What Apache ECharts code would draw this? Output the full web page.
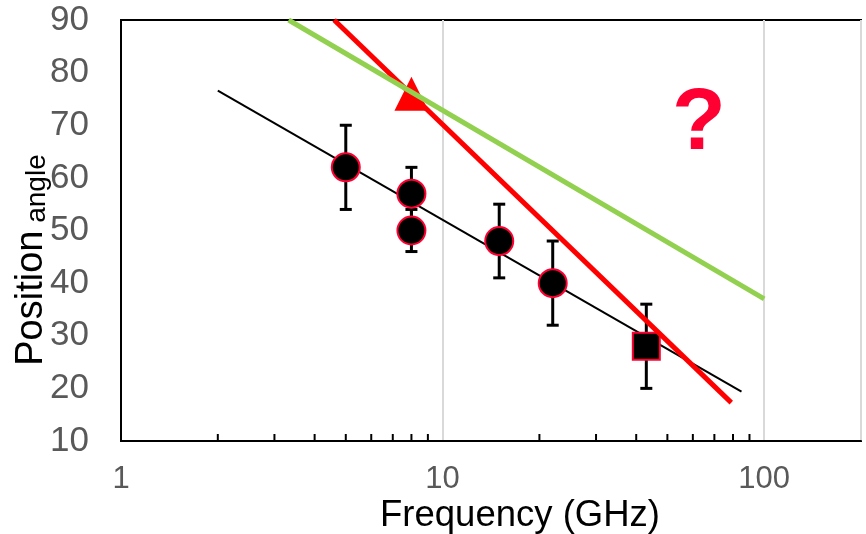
<!DOCTYPE html>
<html>
<head>
<meta charset="utf-8">
<script src="https://cdn.jsdelivr.net/npm/echarts@6/dist/echarts.min.js"></script>
<style>html,body{margin:0;padding:0;background:#fff}#c{width:866px;height:534px}</style>
</head>
<body>
<div id="c"></div>
<script>
// ---- data ----
const circleX = [5, 8, 8, 15, 22];
const circleY = [62, 57, 50, 48, 40];
const circleErr = [8, 5, 4, 7, 8];
const squareX = [43];
const squareY = [28];
const squareErr = [8];
const triangleX = [8];
const triangleY = [76];
const fitBlackX = [2, 85];
const fitBlackY = [76.6, 19.4];
const greenX = [3.32, 100];
const greenY = [90, 37];
const redX = [4.6, 79];
const redY = [90, 17.3];
const minorTickX = [2, 3, 4, 5, 6, 7, 8, 9, 20, 30, 40, 50, 60, 70, 80, 90];
const xTickLabels = [1, 10, 100];
const yMin = 10, yMax = 90, yStep = 10;
const xMin = 1, xMax = 200;

const FONT = '"Liberation Sans", Arial, sans-serif';
const zip = (xs, ys) => xs.map((x, i) => [x, ys[i]]);

const errData = circleX.map((x, i) => [x, circleY[i] - circleErr[i], circleY[i] + circleErr[i]])
  .concat(squareX.map((x, i) => [x, squareY[i] - squareErr[i], squareY[i] + squareErr[i]]));

function renderErr(params, api) {
  const x = api.value(0);
  const top = api.coord([x, api.value(2)]);
  const bot = api.coord([x, api.value(1)]);
  const w = 6;
  const st = { stroke: '#000', lineWidth: 3 };
  return { type: 'group', children: [
    { type: 'line', shape: { x1: top[0], y1: top[1], x2: bot[0], y2: bot[1] }, style: st },
    { type: 'line', shape: { x1: top[0] - w, y1: top[1], x2: top[0] + w, y2: top[1] }, style: st },
    { type: 'line', shape: { x1: bot[0] - w, y1: bot[1], x2: bot[0] + w, y2: bot[1] }, style: st }
  ]};
}
function renderTick(params, api) {
  const p = api.coord([api.value(0), yMin]);
  return { type: 'line', shape: { x1: p[0], y1: p[1], x2: p[0], y2: p[1] - 7 }, style: { stroke: '#000', lineWidth: 2 } };
}

const chart = echarts.init(document.getElementById('c'), null, { renderer: 'canvas' });
chart.setOption({
  animation: false,
  backgroundColor: '#fff',
  grid: { left: 121, right: 5, top: 20, bottom: 93, show: true, borderColor: '#000', borderWidth: 2,
    containLabel: false, outerBoundsMode: 'none' },
  xAxis: {
    type: 'log', logBase: 10, min: xMin, max: xMax,
    name: 'Frequency (GHz)', nameLocation: 'middle', nameGap: 56, nameMoveOverlap: false,
    nameTextStyle: { fontFamily: FONT, fontSize: 36.5, color: '#000', padding: [0, 0, 0, 58] },
    axisLine: { show: true, lineStyle: { color: '#000', width: 2 } },
    axisTick: { show: false },
    axisLabel: { fontFamily: FONT, fontSize: 31, color: '#595959', margin: 23, showMaxLabel: false,
      formatter: v => xTickLabels.indexOf(Math.round(v)) >= 0 ? String(Math.round(v)) : '' },
    splitLine: { show: true, lineStyle: { color: '#d9d9d9', width: 2 } }
  },
  yAxis: {
    type: 'value', min: yMin, max: yMax, interval: yStep,
    name: '{a|Position}{b| angle}', nameLocation: 'middle', nameGap: 70, nameMoveOverlap: false,
    nameTextStyle: { padding: [0, 59, 0, 0], rich: {
      a: { fontFamily: FONT, fontSize: 38, color: '#000', verticalAlign: 'bottom' },
      b: { fontFamily: FONT, fontSize: 28, color: '#000', verticalAlign: 'bottom' }
    } },
    axisLine: { show: true, lineStyle: { color: '#000', width: 2 } },
    axisTick: { show: false },
    axisLabel: { fontFamily: FONT, fontSize: 35, color: '#595959', margin: 32 },
    splitLine: { show: false }
  },
  series: [
    { type: 'line', data: zip(fitBlackX, fitBlackY), showSymbol: false, symbol: 'none',
      lineStyle: { color: '#000', width: 2 }, z: 2 },
    { type: 'custom', data: minorTickX.map(v => [v, yMin]), renderItem: renderTick, encode: { x: 0, y: 1 }, z: 3, silent: true },
    { type: 'custom', data: errData, renderItem: renderErr, encode: { x: 0, y: [1, 2] }, z: 4 },
    { type: 'scatter', data: zip(circleX, circleY), symbol: 'circle', symbolSize: 28,
      itemStyle: { color: '#000', borderColor: '#ff0033', borderWidth: 2, opacity: 1 }, z: 5 },
    { type: 'scatter', data: zip(squareX, squareY), symbol: 'rect', symbolSize: 27,
      itemStyle: { color: '#000', borderColor: '#ff0033', borderWidth: 2, opacity: 1 }, z: 5 },
    { type: 'scatter', data: zip(triangleX, triangleY), symbol: 'triangle', symbolSize: 34,
      itemStyle: { color: '#ff0000', opacity: 1 }, z: 5 },
    { type: 'line', data: zip(redX, redY), showSymbol: false, symbol: 'none',
      lineStyle: { color: '#ff0000', width: 5 }, z: 6 },
    { type: 'line', data: zip(greenX, greenY), showSymbol: false, symbol: 'none',
      lineStyle: { color: '#92d050', width: 5 }, z: 7 }
  ],
  graphic: [
    { type: 'text', x: 699, y: 125, z: 10,
      style: { text: '?', fontFamily: FONT, fontWeight: 'bold', fontSize: 88, fill: '#ff0033', align: 'center', verticalAlign: 'middle' } }
  ]
});
</script>
</body>
</html>
